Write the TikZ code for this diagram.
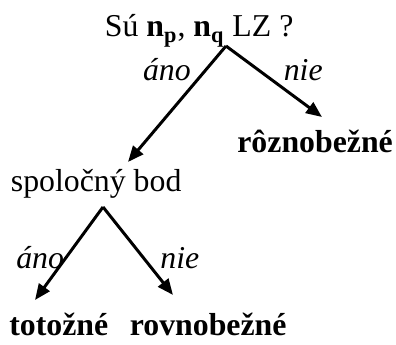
\documentclass[tikz,border=0pt]{standalone}
\usepackage{fontspec}
\setmainfont{Liberation Serif}
\usepackage{tikz}
\usetikzlibrary{arrows.meta}
\usetikzlibrary{positioning}

\begin{document}
\begin{tikzpicture}[>={Triangle[length=8pt,width=6.5pt]}, font=\fontsize{16}{19}\selectfont]
	%\draw[step=1cm,gray,very thin] (0,0) grid (7,6);
	\useasboundingbox (0,0) rectangle (7,6.098);
	\tikzset{ans/.style={font=\fontsize{16}{19}\selectfont\itshape},
	         res/.style={font=\fontsize{16}{19}\selectfont\bfseries},
	         arr/.style={->,line width=1.5pt}}
	\node[anchor=base] (q) at (3.52,5.445) {Sú \textbf{n}\textsubscript{\textbf{p}}, \textbf{n}\textsubscript{\textbf{q}} LZ ?};
	\node[anchor=base] (bod) at (1.70,2.705) {spoločný bod};
	\node[res,anchor=base] (roz) at (5.57,3.394) {rôznobežné};
	\node[res,anchor=base] (tot) at (1.04,0.159) {totožné};
	\node[res,anchor=base] (rov) at (3.68,0.159) {rovnobežné};
	\coordinate (A) at (3.995,5.285);
	\coordinate (A1) at (2.263,3.235);
	\coordinate (A2) at (5.692,4.030);
	\coordinate (B) at (1.821,2.439);
	\coordinate (B1) at (0.619,0.795);
	\coordinate (B2) at (3.058,0.884);
	\draw[arr] (A) -- (A1);
	\draw[arr] (A) -- (A2);
	\draw[arr] (B) -- (B1);
	\draw[arr] (B) -- (B2);
	\node[ans] (ano1) at (2.95,4.86) {áno};
	\node[ans] (nie1) at (5.36,4.86) {nie};
	\node[ans] (ano2) at (0.71,1.54) {áno};
	\node[ans] (nie2) at (3.18,1.54) {nie};
\end{tikzpicture}
\end{document}
